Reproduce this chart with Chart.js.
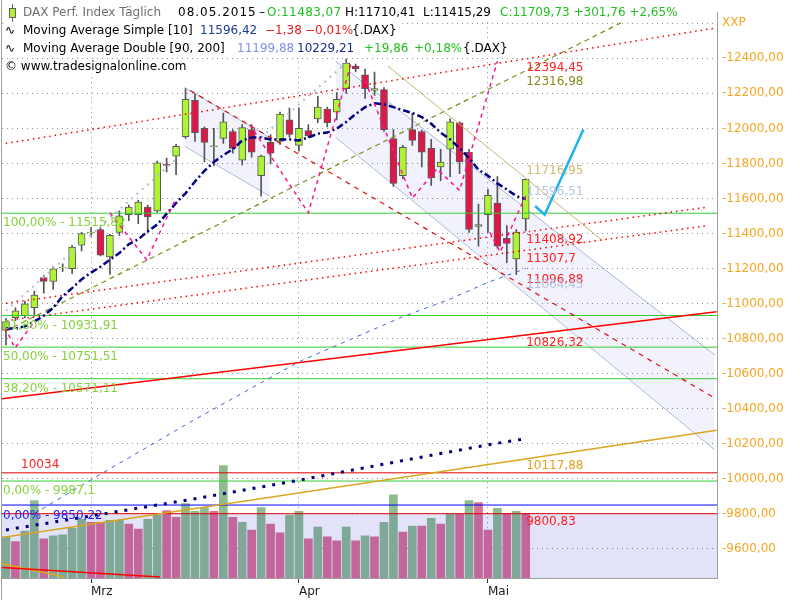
<!DOCTYPE html>
<html lang="de">
<head>
  <meta charset="UTF-8">
  <title>DAX Perf. Index Täglich</title>
  <script src="https://cdn.jsdelivr.net/npm/chart.js"></script>
  <style>
    body { margin: 0; background: #fff; }
    #wrap { width: 800px; height: 600px; }
  </style>
</head>
<body>
<div id="wrap"><canvas id="grafico" width="800" height="600"></canvas></div>
<script>
  // Tageskerzen, Index 0 = 17.02.2015 ... 55 = 08.05.2015
  const opens  = [10847,10920,10931,10976,11149,11127,11203,11199,11333,11404,11423,11266,11406,11507,11507,11551,11529,11795,11842,11953,12160,12000,11896,11942,11982,11819,11993,11730,11920,11926,12049,11903,11987,12054,12110,12093,12227,12356,12306,12216,12221,11942,11730,11993,11982,11886,11780,11881,12032,11864,11440,11507,11574,11372,11255,11483.07];
  const highs  = [10914,10976,11015,11071,11160,11210,11227,11333,11406,11434,11434,11395,11529,11562,11590,11562,11814,11831,11909,12227,12199,12009,12000,12088,11993,12021,12021,11847,11965,12093,12116,12116,12021,12183,12121,12205,12395,12367,12339,12322,12233,11993,11903,12088,11990,11937,11881,12054,12037,11881,11568,11652,11725,11445,11423,11710.41];
  const lows   = [10764,10903,10920,10931,11060,11082,11183,11171,11300,11384,11272,11166,11389,11473,11456,11406,11520,11752,11736,11942,11926,11808,11786,11914,11858,11791,11836,11613,11797,11909,11948,11870,11948,12032,12009,12049,12199,12322,12171,12188,11982,11669,11713,11903,11780,11674,11702,11724,11741,11406,11328,11406,11317,11233,11166,11415.29];
  const closes = [10898,10959,10998,11049,11127,11199,11207,11322,11400,11408,11277,11389,11501,11551,11579,11495,11803,11789,11898,12166,11976,11920,11900,12037,11886,12004,11864,11842,11858,12082,11965,12000,11959,12121,12032,12166,12373,12339,12227,12227,11993,11686,11892,11931,11864,11719,11808,12037,11808,11423,11451,11618,11328,11344,11407.97,11709.73];

  const volTop = [9669,9641,9702,9875,9657,9674,9680,9719,9769,9752,9752,9763,9763,9741,9713,9769,9791,9819,9780,9858,9814,9836,9814,10076,9780,9752,9708,9836,9741,9691,9791,9814,9657,9724,9669,9646,9724,9646,9674,9669,9752,9909,9696,9730,9730,9775,9741,9797,9797,9875,9864,9708,9831,9803,9814,9803];
  const volUp  = [1,0,1,1,0,1,1,1,1,0,0,1,1,0,0,1,1,0,0,1,1,1,0,1,0,1,0,1,0,0,1,1,0,1,0,0,1,0,1,0,1,1,0,1,0,1,0,1,0,1,0,0,1,0,1,0];

  // Moving Average Simple [10]
  const ma10 = [10858,10858,10870,10898,10931,10976,11043,11088,11138,11177,11210,11250,11289,11339,11367,11412,11451,11512,11574,11629,11697,11758,11808,11847,11881,11931,11948,11948,11937,11937,11937,11931,11948,11970,11976,11998,12037,12082,12121,12143,12138,12121,12104,12088,12065,12026,11976,11937,11887,11831,11764,11730,11686,11652,11613,11596.42];
  // Moving Average Double [90, 200]
  const ma90Idx  = [3, 10, 20, 31, 42, 47, 51, 55];
  const ma90     = [9802, 10026, 10339, 10668, 10925, 11026, 11121, 11199.88];
  const ma200Idx = [0, 10, 20, 31, 42, 51, 55];
  const ma200    = [9708, 9797, 9886, 9992, 10104, 10194, 10229.21];

  // Achsen
  const xTickIdx    = [9, 31, 51];
  const xTickLabels = ['Mrz', 'Apr', 'Mai'];
  const yTicks = [9600, 9800, 10000, 10200, 10400, 10600, 10800, 11000, 11200, 11400, 11600, 11800, 12000, 12200, 12400, 12600];

  // Fibonacci-Niveaus und Horizontale
  const fibPct    = ['100,00%', '61,80%', '50,00%', '38,20%', '0,00%'];
  const fibLevels = [11515.82, 10931.91, 10751.51, 10571.11, 9987.1];
  const redLevels = [10034, 9800.83];
  const blueLevel = 9850.22;

  // Trendlinien [Index, Kurs]
  const redDot1    = [[-0.6, 11909], [75.2, 12574]];
  const redDot2    = [[-0.6, 10998], [74.3, 11551]];
  const redDot3    = [[-0.6, 10898], [74.3, 11445]];
  const oliveDash  = [[-0.1, 10842], [66.3, 12635]];
  const tanLine    = [[40.4, 12356], [63.1, 11361]];
  const redSolid   = [[-0.6, 10456], [75.2, 10953]];
  const orangeLine = [[-0.6, 9663], [75.2, 10277]];
  const redLow     = [[-0.6, 9495], [16.3, 9439]];
  const orangeLow  = [[-0.6, 9518], [6.2, 9439]];
  const redDash    = [[19.5, 12216], [74.8, 10467]];
  const bigChanUp  = [[34.9, 12384], [75.0, 10708]];
  const bigChanLo  = [[34.9, 11948], [75.0, 10165]];
  const smlChanUp  = [[18.9, 12233], [27.9, 11948]];
  const smlChanLo  = [[18.9, 11898], [27.9, 11613]];
  const lightA     = [[0, 10959], [18, 11825]];
  const lightB     = [[27, 11948], [36, 12373]];
  const arrow      = [[56.0, 11557], [57.0, 11507], [61.1, 11993]];
  const zigzags = [
    [[-0.1, 10864], [0.95, 10747], [3.1, 10903]],
    [[11.0, 11518], [14.9, 11250], [17.9, 11590]],
    [[25.8, 12021], [32.0, 11518], [36.6, 12384]],
    [[38.0, 12272], [43.0, 11602], [45.6, 11769], [48.0, 11646], [52.0, 12384]],
    [[51.2, 11406], [52.3, 11294], [55.1, 11627]]
  ];

  // Werte-Beschriftungen rechts
  const notas = [
    ['12394,45', '#ff2020', 12345], ['12316,98', '#8a8a1e', 12266],
    ['11716,95', '#cdbb78', 11758], ['11596,51', '#b4c4e2', 11635],
    ['11408,92', '#ff2020', 11361], ['11307,7', '#ff2020', 11255],
    ['11096,88', '#ff2020', 11138], ['11064,45', '#b4c4e2', 11104],
    ['10826,32', '#ff2020', 10775], ['10117,88', '#e0a020', 10071],
    ['9800,83', '#ff2020', 9752]
  ];

  const xMin = -0.42, xMax = 75.24;
  const yMin = 9433.8, yMax = 12663.1;
  const fmt = v => String(v).replace('.', ',');

  Chart.defaults.font.family = '"DejaVu Sans"';
  Chart.defaults.font.size = 12;

  function linha(pts, cor, larg, tracejado, ordem, extra) {
    return Object.assign({
      type: 'line',
      data: pts.map(p => ({ x: p[0], y: p[1] })),
      borderColor: cor,
      borderWidth: larg,
      borderDash: tracejado || [],
      pointRadius: 0,
      fill: false,
      tension: 0,
      order: ordem
    }, extra || {});
  }
  function horiz(v, cor, ordem, extra) {
    return linha([[xMin - 1, v], [xMax + 1, v]], cor, 1, [], ordem, extra);
  }

  const idx = opens.map((_, i) => i);
  const datasets = [];

  // Kanaele (Flaechen)
  datasets.push(linha(bigChanUp, '#a8bedc', 1, [], 100));
  datasets.push(linha(bigChanLo, '#a8bedc', 1, [], 99, { fill: '-1', backgroundColor: 'rgba(40,40,210,0.06)' }));
  datasets.push(linha(smlChanUp, '#a8bedc', 1, [], 100));
  datasets.push(linha(smlChanLo, '#a8bedc', 1, [], 99, { fill: '-1', backgroundColor: 'rgba(40,40,210,0.06)' }));

  // Volumen
  datasets.push({
    type: 'bar',
    data: idx.map(i => ({ x: i, y: [yMin, volTop[i]] })),
    backgroundColor: idx.map(i => volUp[i] ? '#8fbc8f' : '#db7093'),
    barThickness: 8,
    grouped: false,
    order: 80
  });
  datasets.push(horiz(redLevels[1], 'rgba(0,0,0,0)', 75, { fill: 'start', backgroundColor: 'rgba(30,35,205,0.13)', borderWidth: 0 }));

  // Kerzen
  datasets.push({
    type: 'bar',
    data: idx.map(i => ({ x: i, y: [lows[i], highs[i]] })),
    backgroundColor: '#555555',
    barThickness: 1,
    grouped: false,
    order: 31
  });
  datasets.push({
    type: 'bar',
    data: idx.map(i => ({ x: i, y: [opens[i], closes[i]] })),
    backgroundColor: idx.map(i => closes[i] >= opens[i] ? '#adf532' : '#dc1848'),
    borderColor: '#5a5a5a',
    borderWidth: 1,
    borderSkipped: false,
    barThickness: 7,
    grouped: false,
    order: 30
  });

  // Horizontale
  fibLevels.forEach(v => datasets.push(horiz(v, '#32cd32', 15)));
  redLevels.forEach(v => datasets.push(horiz(v, '#e00000', 15)));
  datasets.push(horiz(blueLevel, '#0000ff', 15));

  // Trendlinien
  datasets.push(linha(redDot1, '#ff0000', 1.5, [1.5, 4], 12));
  datasets.push(linha(redDot2, '#ff0000', 1.5, [1.5, 4], 12));
  datasets.push(linha(redDot3, '#ff0000', 1.5, [1.5, 4], 12));
  datasets.push(linha(oliveDash, '#7c8c1c', 1.2, [5, 4], 12));
  datasets.push(linha(tanLine, '#c8b46e', 1, [], 12));
  datasets.push(linha(redSolid, '#ff0000', 1.5, [], 12));
  datasets.push(linha(orangeLine, '#daa520', 1.5, [], 12));
  datasets.push(linha(redLow, '#ff0000', 1.5, [], 12));
  datasets.push(linha(orangeLow, '#daa520', 1.5, [], 12));
  datasets.push(linha(redDash, '#e01010', 1.2, [5, 5], 12));
  datasets.push(linha(lightA, '#a9bfe0', 2, [2, 5], 12));
  datasets.push(linha(lightB, '#a9bfe0', 2, [2, 5], 12));

  // Gleitende Durchschnitte
  datasets.push(linha(ma90Idx.map((v, i) => [v, ma90[i]]), '#3a64e0', 1, [4, 5], 10));
  datasets.push(linha(ma200Idx.map((v, i) => [v, ma200[i]]), '#000080', 3, [3, 7], 10));
  datasets.push(linha(idx.map(i => [i, ma10[i]]), '#000080', 2.5, [7, 3, 2, 3], 9));

  zigzags.forEach(z => datasets.push(linha(z, '#ff1493', 1.5, [4, 4], 8)));
  datasets.push(linha(arrow, '#1eb0f0', 2.5, [], 7));

  // Kopfzeile: Textteile mit Startposition
  function linhaTopo(ctx, yc, partes, icone) {
    const ult = partes[partes.length - 1];
    const fim = ult[2] + ctx.measureText(ult[0]).width;
    ctx.fillStyle = '#fff';
    ctx.fillRect(3, yc - 8, fim - 1, 17);
    if (icone === 'kerze') {
      ctx.strokeStyle = '#606060';
      ctx.lineWidth = 1;
      ctx.beginPath(); ctx.moveTo(12.5, 4); ctx.lineTo(12.5, 22); ctx.stroke();
      ctx.fillStyle = '#adf532';
      ctx.fillRect(9, 8, 7, 10);
      ctx.strokeRect(9.5, 8.5, 6, 9);
    } else if (icone === 'welle') {
      ctx.fillStyle = '#000';
      ctx.fillText('\u223F', 5, yc);
    }
    partes.forEach(p => {
      ctx.fillStyle = p[1];
      ctx.letterSpacing = p[3] || '0px';
      ctx.fillText(p[0], p[2], yc);
    });
    ctx.letterSpacing = '0px';
  }

  const textos = {
    id: 'textos',
    afterDatasetsDraw(chart) {
      const { ctx, scales: { x, y } } = chart;
      ctx.save();
      ctx.font = '12px "DejaVu Sans"';
      ctx.textBaseline = 'middle';
      fibLevels.forEach((v, i) => {
        ctx.fillStyle = '#86d13a';
        ctx.fillText(fibPct[i] + ' - ' + fmt(v), x.left + 1, y.getPixelForValue(v) + 10);
      });
      ctx.fillStyle = '#2020ff';
      ctx.fillText('0,00% - ' + fmt(blueLevel), x.left + 1, y.getPixelForValue(blueLevel) + 11);
      ctx.fillStyle = '#ff2020';
      ctx.fillText(fmt(redLevels[0]), x.getPixelForValue(1.6), y.getPixelForValue(redLevels[0]) - 8);
      notas.forEach(n => {
        ctx.fillStyle = n[1];
        ctx.fillText(n[0], x.getPixelForValue(55.05), y.getPixelForValue(n[2]));
      });
      ctx.restore();
    },
    afterDraw(chart) {
      const ctx = chart.ctx;
      ctx.save();
      ctx.strokeStyle = '#a0a0a0';
      ctx.lineWidth = 1;
      ctx.beginPath(); ctx.moveTo(1.5, 0); ctx.lineTo(1.5, 600); ctx.stroke();
      ctx.font = '12px "DejaVu Sans"';
      ctx.textBaseline = 'middle';
      linhaTopo(ctx, 13, [
        ['DAX Perf. Index Täglich', '#707070', 23],
        ['08.05.2015', '#000', 178, '1px'],
        ['\u2013', '#000', 259],
        ['O:11483,07', '#1fbf1f', 267, '0.4px'],
        ['H:11710,41', '#000', 345],
        ['L:11415,29', '#000', 423],
        ['C:11709,73 +301,76 +2,65%', '#1fbf1f', 500]
      ], 'kerze');
      linhaTopo(ctx, 31, [
        ['Moving Average Simple [10]', '#000', 23],
        ['11596,42', '#1c3c9c', 200],
        ['\u22121,38', '#e82020', 265],
        ['\u22120,01%', '#e82020', 305],
        ['{.DAX}', '#000', 352]
      ], 'welle');
      linhaTopo(ctx, 49, [
        ['Moving Average Double [90, 200]', '#000', 23],
        ['11199,88', '#7f8ff0', 237],
        ['10229,21', '#1c2c8c', 297],
        ['+19,86', '#1fbf1f', 364],
        ['+0,18%', '#1fbf1f', 414],
        ['{.DAX}', '#000', 463]
      ], 'welle');
      ctx.fillStyle = '#fff';
      ctx.fillRect(3, 59, 192, 17);
      ctx.fillStyle = '#000';
      ctx.fillText('\u00A9 www.tradesignalonline.com', 5, 67);
      ctx.restore();
    }
  };

  new Chart(document.getElementById('grafico'), {
    type: 'bar',
    data: { datasets: datasets },
    options: {
      responsive: false,
      animation: false,
      events: [],
      layout: { padding: { left: 2, top: 0, right: 0, bottom: 0 } },
      plugins: { legend: { display: false }, tooltip: { enabled: false } },
      scales: {
        x: {
          type: 'linear',
          min: xMin,
          max: xMax,
          offset: false,
          grid: {
            offset: false,
            color: '#909090',
            tickColor: '#303030',
            tickLength: 5
          },
          border: { color: '#a0a0a0', dash: [1, 4] },
          ticks: {
            autoSkip: false,
            maxRotation: 0,
            align: 'start',
            padding: 2,
            color: '#202020',
            callback: (v, i) => xTickLabels[i]
          },
          afterBuildTicks: scale => { scale.ticks = xTickIdx.map(v => ({ value: v })); },
          afterFit: scale => { scale.height = 22; }
        },
        y: {
          type: 'linear',
          position: 'right',
          min: yMin,
          max: yMax,
          beginAtZero: false,
          grid: { color: '#909090', drawTicks: false },
          border: { color: '#a0a0a0', dash: [1, 4] },
          ticks: {
            padding: 5,
            color: '#f5a623',
            callback: v => v === 12600 ? 'XXP' : '-' + v.toFixed(2).replace('.', ',')
          },
          afterBuildTicks: scale => { scale.ticks = yTicks.map(v => ({ value: v })); },
          afterFit: scale => { scale.width = 83; }
        }
      }
    },
    plugins: [textos]
  });
</script>
</body>
</html>
